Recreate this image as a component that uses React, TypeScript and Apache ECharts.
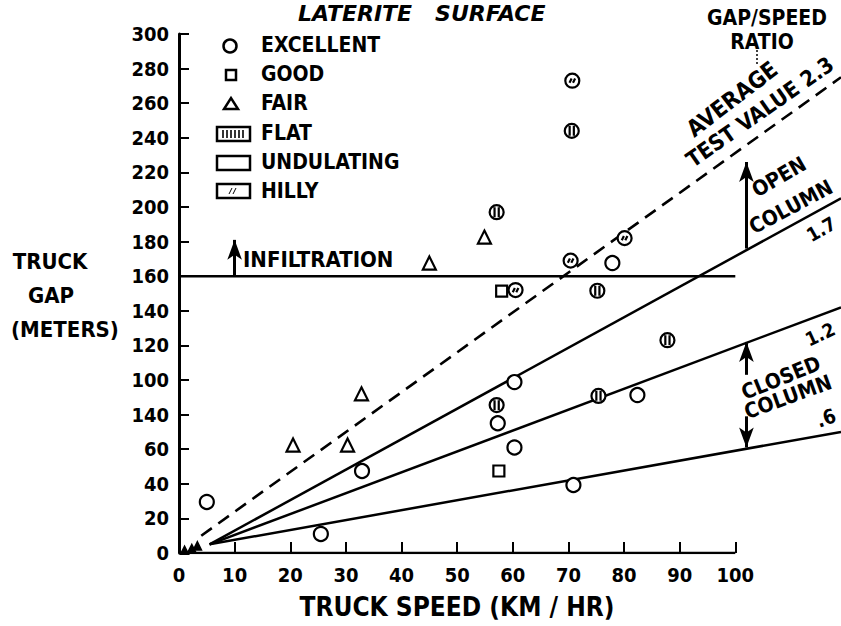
import React, { useEffect, useRef } from "react";
import * as echarts from "echarts";

// ---- data ----
const xTickValues = [0, 10, 20, 30, 40, 50, 60, 70, 80, 90, 100];
const yTickLabels = ["0", "20", "40", "60", "140", "100", "120", "140", "160", "180", "200", "220", "240", "260", "280", "300"];

const excellentFlat = [[57.1, 197], [70.6, 244], [75.2, 151.6], [57.1, 85.5], [87.8, 123], [75.4, 90.8]];
const excellentHilly = [[70.4, 169], [80.1, 182], [60.5, 152], [70.7, 273]];
const excellentUndulating = [[77.9, 167.6], [60.3, 98.8], [57.3, 75], [60.3, 61], [82.4, 91.3], [70.9, 39.3], [32.9, 47.4], [25.5, 11], [5.0, 29.5]];
const goodPoints = [[58, 151.4], [57.5, 47.4]];
const fairPoints = [[20.5, 62.4], [30.3, 62.4], [32.8, 92], [45, 167.6], [54.9, 182.6]];
const originPoints = [[1, 1.5], [2.3, 2.5], [3.3, 4]];

const averageLine = [[4, 10], [119, 275]];
const openLine = [[5.5, 5], [119, 205]];
const midLine = [[5.5, 5], [119, 142]];
const closedLine = [[5.5, 5], [119, 70]];
const infiltrationLine = [[0, 160], [100, 160]];
const xBaseline = [[0, 0], [100, 0]];
const infiltrationArrow = [[10, 160], [10, 181]];
const openArrow = [[102, 176], [102, 226]];
const closedArrowUp = [[102, 103], [102, 122]];
const closedArrowDown = [[102, 79], [102, 61]];

const FF = "'DejaVu Sans Condensed', 'DejaVu Sans', sans-serif";
const flatSymbol = "path://M0,-10A10,10,0,1,1,0,10A10,10,0,1,1,0,-10Z M-3,-7L-3,7 M3,-7L3,7";
const hillySymbol = "path://M0,-10A10,10,0,1,1,0,10A10,10,0,1,1,0,-10Z M-4,3L-1,-3 M1,3L4,-3";

function txt(text: string, x: number, y: number, size: number, rot = 0, align = "center", extra: any = {}) {
  return {
    type: "text",
    x,
    y,
    rotation: rot,
    style: {
      text,
      x: 0,
      y: 0,
      fill: "#000",
      font: `bold ${size}px ${FF}`,
      align,
      verticalAlign: "middle",
      ...extra,
    },
    silent: true,
  };
}

const deg = (d: number) => (d * Math.PI) / 180;

export default function App() {
  const ref = useRef<HTMLDivElement>(null);
  useEffect(() => {
    if (!ref.current) return;
    const chart = echarts.init(ref.current, null, { renderer: "svg" });
    const lineBase = (data: number[][], type: any = "solid", width = 2.5) => ({
      type: "line",
      data,
      symbol: "none",
      silent: true,
      lineStyle: { color: "#000", width, type },
      z: 2,
    });
    const arrowLine = (pts: number[][]) => [{ coord: pts[0] }, { coord: pts[1] }];
    const scatterBase = (data: number[][], symbol: string, size: number, fill = "#fff") => ({
      type: "scatter",
      data,
      symbol,
      symbolSize: size,
      silent: true,
      itemStyle: { color: fill, borderColor: "#000", borderWidth: 2.2, opacity: 1 },
      z: 5,
    });
    const legendRectY = [127, 156, 184];
    chart.setOption({
      animation: false,
      backgroundColor: "#fff",
      grid: { left: 179, right: 0, top: 34, bottom: 73, containLabel: false, outerBoundsMode: "none" },
      xAxis: {
        type: "value",
        min: 0,
        max: 119,
        axisLine: { show: false },
        splitLine: { show: false },
        axisTick: { show: true, inside: true, length: 11, customValues: xTickValues, lineStyle: { color: "#000", width: 2 } },
        axisLabel: {
          customValues: xTickValues,
          color: "#000",
          fontFamily: FF,
          fontWeight: "bold",
          fontSize: 20,
          margin: 12,
        },
      },
      yAxis: {
        type: "value",
        min: 0,
        max: 300,
        interval: 20,
        axisLine: { show: true, lineStyle: { color: "#000", width: 3 } },
        splitLine: { show: false },
        axisTick: { show: true, inside: true, length: 10, lineStyle: { color: "#000", width: 2 } },
        axisLabel: {
          color: "#000",
          fontFamily: FF,
          fontWeight: "bold",
          fontSize: 20,
          margin: 10,
          formatter: (v: number) => yTickLabels[Math.round(v / 20)] ?? "",
        },
      },
      series: [
        lineBase(xBaseline, "solid", 2.5),
        lineBase(averageLine, [13, 8], 2.6),
        lineBase(openLine),
        lineBase(midLine),
        lineBase(closedLine),
        lineBase(infiltrationLine),
        {
          type: "line",
          data: [],
          silent: true,
          markLine: {
            silent: true,
            symbol: ["none", "arrow"],
            symbolSize: [11, 20],
            label: { show: false },
            lineStyle: { color: "#000", width: 3, type: "solid" },
            itemStyle: { color: "#000" },
            data: [arrowLine(infiltrationArrow), arrowLine(openArrow), arrowLine(closedArrowUp), arrowLine(closedArrowDown)],
          },
        },
        scatterBase(excellentUndulating, "circle", 14),
        scatterBase(excellentFlat, flatSymbol, 14),
        scatterBase(excellentHilly, hillySymbol, 14),
        scatterBase(goodPoints, "rect", 11),
        scatterBase(fairPoints, "triangle", 13),
        scatterBase(originPoints, "triangle", 7, "#000"),
      ],
      graphic: [
        txt("LATERITE   SURFACE", 298, 13, 22, 0, "left", { font: `italic bold 22px 'DejaVu Sans', sans-serif` }),
        // legend
        { type: "circle", shape: { cx: 230, cy: 46, r: 6.5 }, style: { fill: "#fff", stroke: "#000", lineWidth: 2.5 } },
        { type: "rect", shape: { x: 226, y: 70, width: 10, height: 10 }, style: { fill: "#fff", stroke: "#000", lineWidth: 2.5 } },
        { type: "polygon", shape: { points: [[224, 109], [238, 109], [231, 98]] }, style: { fill: "#fff", stroke: "#000", lineWidth: 2.5 } },
        ...legendRectY.map((y) => ({
          type: "rect",
          shape: { x: 217, y, width: 33, height: 14 },
          style: { fill: "#fff", stroke: "#000", lineWidth: 2.5 },
        })),
        ...[223, 227, 231, 235, 239, 243].map((x) => ({
          type: "line",
          shape: { x1: x, y1: 130, x2: x, y2: 138 },
          style: { stroke: "#000", lineWidth: 1.6 },
        })),
        { type: "line", shape: { x1: 229, y1: 194, x2: 232, y2: 188 }, style: { stroke: "#000", lineWidth: 1 } },
        { type: "line", shape: { x1: 233, y1: 194, x2: 236, y2: 188 }, style: { stroke: "#000", lineWidth: 1 } },
        txt("EXCELLENT", 261, 45, 21, 0, "left"),
        txt("GOOD", 261, 74, 21, 0, "left"),
        txt("FAIR", 261, 103, 21, 0, "left"),
        txt("FLAT", 261, 133, 21, 0, "left"),
        txt("UNDULATING", 261, 162, 21, 0, "left"),
        txt("HILLY", 261, 191, 21, 0, "left"),
        // y axis name
        txt("TRUCK", 50, 261, 22),
        txt("GAP", 51, 295, 22),
        txt("(METERS)", 65, 329, 22),
        // x axis name
        txt("TRUCK SPEED (KM / HR)", 457, 607, 26),
        // annotations
        txt("INFILTRATION", 243, 259, 22, 0, "left"),
        txt("GAP/SPEED", 767, 18, 21),
        txt("RATIO", 762, 42, 21),
        { type: "line", shape: { x1: 757, y1: 50, x2: 757, y2: 64 }, style: { stroke: "#000", lineWidth: 1.5, lineDash: [2, 2] } },
        txt("AVERAGE", 732, 99, 23, deg(37.5)),
        txt("TEST VALUE 2.3", 760, 112, 22, deg(35)),
        txt("OPEN", 779, 177, 21, deg(30)),
        txt("COLUMN", 791, 207, 21, deg(28)),
        txt("1.7", 821, 229, 19, deg(30)),
        txt("1.2", 820, 334, 19, deg(25)),
        txt("CLOSED", 781, 378, 21, deg(22)),
        txt("COLUMN", 788, 397, 21, deg(20)),
        txt(".6", 826, 418, 20, deg(20)),
      ],
    });
    return () => chart.dispose();
  }, []);
  return <div ref={ref} style={{ position: "absolute", left: 0, top: 0, width: 841, height: 626 }} />;
}
